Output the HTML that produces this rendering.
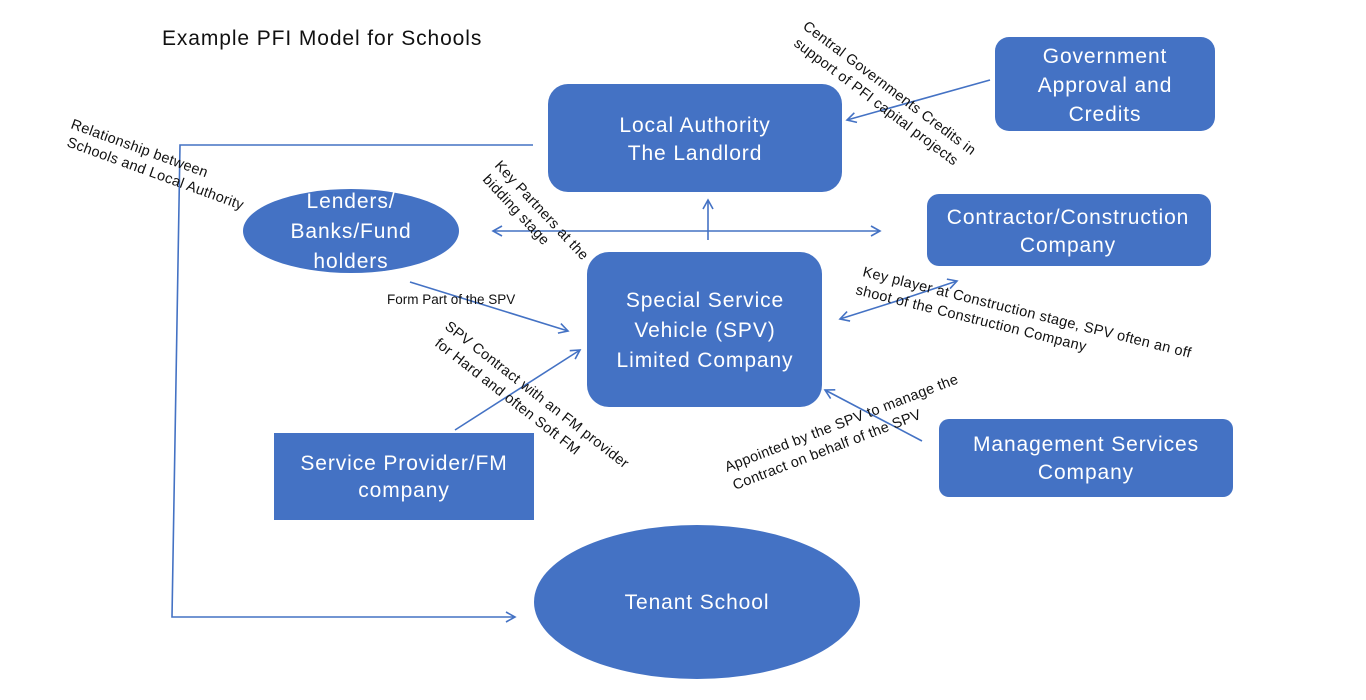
<!DOCTYPE html>
<html><head><meta charset="utf-8"><style>
html,body{margin:0;padding:0;background:#fff;}
svg{display:block;font-family:"Liberation Sans",sans-serif;}
.w{fill:#fff;font-size:21px;text-anchor:middle;letter-spacing:0.9px;}
.a{fill:#111;font-size:14.5px;letter-spacing:0.3px;}
.l{stroke:#4472C4;stroke-width:1.6;fill:none;}
</style></head><body>
<svg width="1366" height="700" viewBox="0 0 1366 700">
<defs><marker id="ar" markerWidth="12" markerHeight="12" refX="10" refY="6" orient="auto" markerUnits="userSpaceOnUse"><path d="M1,1 L10,6 L1,11" fill="none" stroke="#4472C4" stroke-width="1.6"/></marker></defs>
<text x="162" y="45" style="font-size:21px;fill:#111;letter-spacing:0.9px">Example PFI Model for Schools</text>

<rect x="548" y="84" width="294" height="108" rx="20" fill="#4472C4"/>
<text class="w" x="695" y="132">Local Authority</text><text class="w" x="695" y="160">The Landlord</text>

<rect x="995" y="37" width="220" height="94" rx="14" fill="#4472C4"/>
<text class="w" x="1105" y="63">Government</text><text class="w" x="1105" y="92">Approval and</text><text class="w" x="1105" y="121">Credits</text>

<ellipse cx="351" cy="231" rx="108" ry="42" fill="#4472C4"/>
<text class="w" x="351" y="208">Lenders/</text><text class="w" x="351" y="238">Banks/Fund</text><text class="w" x="351" y="268">holders</text>

<rect x="927" y="194" width="284" height="72" rx="12" fill="#4472C4"/>
<text class="w" x="1068" y="224">Contractor/Construction</text><text class="w" x="1068" y="252">Company</text>

<rect x="587" y="252" width="235" height="155" rx="22" fill="#4472C4"/>
<text class="w" x="705" y="307">Special Service</text><text class="w" x="705" y="337">Vehicle (SPV)</text><text class="w" x="705" y="367">Limited Company</text>

<rect x="274" y="433" width="260" height="87" fill="#4472C4"/>
<text class="w" x="404" y="470">Service Provider/FM</text><text class="w" x="404" y="497">company</text>

<rect x="939" y="419" width="294" height="78" rx="10" fill="#4472C4"/>
<text class="w" x="1086" y="451">Management Services</text><text class="w" x="1086" y="479">Company</text>

<ellipse cx="697" cy="602" rx="163" ry="77" fill="#4472C4"/>
<text class="w" x="697" y="609">Tenant School</text>

<polyline class="l" points="533,145 180,145 172,617 515,617" marker-end="url(#ar)"/>
<line class="l" x1="700" y1="231" x2="493" y2="231" marker-end="url(#ar)"/>
<line class="l" x1="700" y1="231" x2="880" y2="231" marker-end="url(#ar)"/>
<line class="l" x1="708" y1="240" x2="708" y2="200" marker-end="url(#ar)"/>
<line class="l" x1="990" y1="80" x2="847" y2="120" marker-end="url(#ar)"/>
<line class="l" x1="410" y1="282" x2="568" y2="331" marker-end="url(#ar)"/>
<line class="l" x1="455" y1="430" x2="580" y2="350" marker-end="url(#ar)"/>
<line class="l" x1="900" y1="300" x2="957" y2="281" marker-end="url(#ar)"/>
<line class="l" x1="900" y1="300" x2="840" y2="319" marker-end="url(#ar)"/>
<line class="l" x1="922" y1="441" x2="825" y2="390" marker-end="url(#ar)"/>

<text class="a" x="387" y="304" style="font-size:13.5px;letter-spacing:0">Form Part of the SPV</text>
<g transform="translate(70,128) rotate(20)"><text class="a" x="0" y="0">Relationship between</text></g>
<g transform="translate(66,146) rotate(20)"><text class="a" x="0" y="0">Schools and Local Authority</text></g>
<g transform="translate(494,166) rotate(47)"><text class="a" x="0" y="0">Key Partners at the</text></g>
<g transform="translate(482,180) rotate(47)"><text class="a" x="0" y="0">bidding stage</text></g>
<g transform="translate(444,328) rotate(38)"><text class="a" x="0" y="0">SPV Contract with an FM provider</text></g>
<g transform="translate(434,345) rotate(38)"><text class="a" x="0" y="0">for Hard and often Soft FM</text></g>
<g transform="translate(802,28) rotate(37)"><text class="a" x="0" y="0">Central Governments Credits in</text></g>
<g transform="translate(793,45) rotate(37)"><text class="a" x="0" y="0">support of PFI capital projects</text></g>
<g transform="translate(862,276) rotate(14)"><text class="a" x="0" y="0">Key player at Construction stage, SPV often an off</text></g>
<g transform="translate(855,294) rotate(14)"><text class="a" x="0" y="0">shoot of the Construction Company</text></g>
<g transform="translate(727,472) rotate(-21)"><text class="a" x="0" y="0">Appointed by the SPV to manage the</text></g>
<g transform="translate(735,490) rotate(-21)"><text class="a" x="0" y="0">Contract on behalf of the SPV</text></g>
</svg>
</body></html>
